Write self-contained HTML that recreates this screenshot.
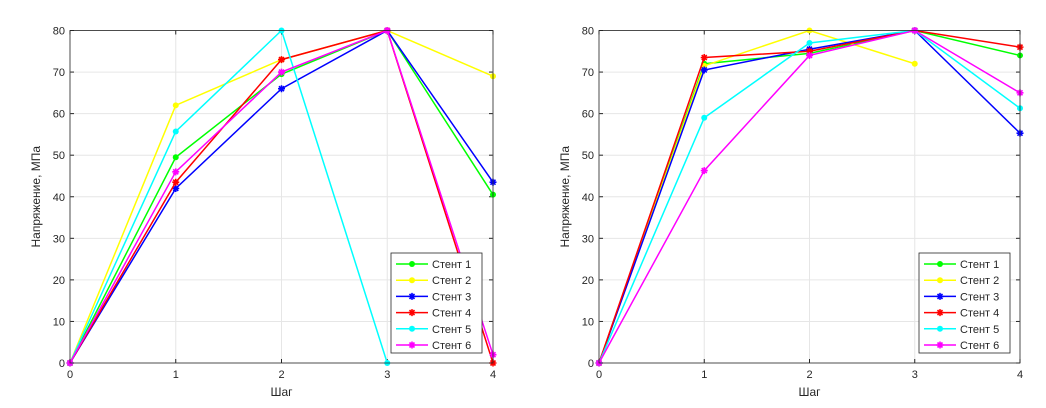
<!DOCTYPE html>
<html><head><meta charset="utf-8"><style>
html,body{margin:0;padding:0;background:#fff;}
svg{display:block;font-family:"Liberation Sans",sans-serif;}
</style></head><body>
<svg id="svg" width="1046" height="408" viewBox="0 0 1046 408"></svg>
<script>
const steps=[0,1,2,3,4];
const yTicks=[0,10,20,30,40,50,60,70,80];
const names=["Стент 1","Стент 2","Стент 3","Стент 4","Стент 5","Стент 6"];
const colors=["#00ff00","#ffff00","#0000ff","#ff0000","#00ffff","#ff00ff"];
const markerTypes=["dot","dot","star","star","dot","star"];
const left1=[0,49.5,69.5,80,40.5];
const left2=[0,62,73,80,69];
const left3=[0,42,66,80,43.5];
const left4=[0,43.5,73,80,0];
const left5=[0,55.7,80,0,null];
const left6=[0,46,70,80,2];
const right1=[0,72,74.5,80,74];
const right2=[0,71.5,80,72,null];
const right3=[0,70.5,75.5,80,55.3];
const right4=[0,73.5,75,80,76];
const right5=[0,59,77,80,61.3];
const right6=[0,46.3,74,80,65];
const NS="http://www.w3.org/2000/svg";
const svg=document.getElementById("svg");
function mk(tag,attrs,parent){const e=document.createElementNS(NS,tag);for(const k in attrs)e.setAttribute(k,attrs[k]);(parent||svg).appendChild(e);return e;}
function drawChart(id,x0,x1,y0,y1,series,lg){
  const g=mk("g",{});
  
  
  const sx=v=>x0+(v-0)/(4-0)*(x1-x0);
  const sy=v=>y0-(v/80)*(y0-y1);
  mk("rect",{x:x0,y:y1,width:x1-x0,height:y0-y1,fill:"#fff"},g);
  yTicks.forEach(t=>{const l=mk("line",{x1:x0,x2:x1,y1:sy(t),y2:sy(t),stroke:"#e6e6e6","stroke-width":1},g);
    
    const tx=mk("text",{x:x0-5,y:sy(t)+4,"text-anchor":"end","font-size":11,fill:"#262626"},g);tx.textContent=t;
    
    mk("line",{x1:x0,x2:x0+4,y1:sy(t),y2:sy(t),stroke:"#262626"},g);mk("line",{x1:x1,x2:x1-4,y1:sy(t),y2:sy(t),stroke:"#262626"},g);});
  steps.forEach(t=>{const l=mk("line",{y1:y0,y2:y1,x1:sx(t),x2:sx(t),stroke:"#e6e6e6","stroke-width":1},g);
    
    const tx=mk("text",{x:sx(t),y:y0+15,"text-anchor":"middle","font-size":11,fill:"#262626"},g);tx.textContent=t;
    
    mk("line",{y1:y0,y2:y0-4,x1:sx(t),x2:sx(t),stroke:"#262626"},g);mk("line",{y1:y1,y2:y1+4,x1:sx(t),x2:sx(t),stroke:"#262626"},g);});
  function marker(px,py,c,type,par){
    if(type==="dot"){mk("circle",{cx:px,cy:py,r:3,fill:c},par);}
    else{mk("path",{d:`M${px-3.5},${py}H${px+3.5}M${px},${py-3.5}V${py+3.5}M${px-2.5},${py-2.5}L${px+2.5},${py+2.5}M${px-2.5},${py+2.5}L${px+2.5},${py-2.5}`,stroke:c,"stroke-width":1.6},par);}
  }
  series.forEach((vals,i)=>{
    const sg=mk("g",{},g);
    
    
    let d="";let pen=false;
    vals.forEach((v,j)=>{if(v===null){pen=false;return;}d+=(pen?"L":"M")+sx(steps[j])+","+sy(v);pen=true;});
    mk("path",{d:d,fill:"none",stroke:colors[i],"stroke-width":1.5},sg);
    vals.forEach((v,j)=>{if(v!==null)marker(sx(steps[j]),sy(v),colors[i],markerTypes[i],sg);});
  });
  mk("rect",{x:x0,y:y1,width:x1-x0,height:y0-y1,fill:"none",stroke:"#262626","stroke-width":0.8},g);
  const yl=mk("text",{x:0,y:0,transform:`translate(${x0-30},${(y0+y1)/2}) rotate(-90)`,"text-anchor":"middle","font-size":12,fill:"#262626"},g);
  yl.textContent="Напряжение, МПа";
  const xl=mk("text",{x:(x0+x1)/2,y:y0+33,"text-anchor":"middle","font-size":12,fill:"#262626"},g);
  xl.textContent="Шаг";
  const lgG=mk("g",{},g);
  
  
  mk("rect",{x:lg,y:253,width:91,height:100,fill:"#fff",stroke:"#262626","stroke-width":0.8},lgG);
  names.forEach((n,i)=>{const yy=264+i*16.2;
    const eg=mk("g",{},lgG);
    mk("line",{x1:lg+5,x2:lg+37,y1:yy,y2:yy,stroke:colors[i],"stroke-width":1.5},eg);
    marker(lg+21,yy,colors[i],markerTypes[i],eg);
    const t=mk("text",{x:lg+41,y:yy+4,"font-size":11,fill:"#262626"},eg);t.textContent=n;});
}
drawChart("left-chart",70,493,363,30.5,[left1,left2,left3,left4,left5,left6],391);
drawChart("right-chart",599,1020,363,30.5,[right1,right2,right3,right4,right5,right6],919);
</script>
</body></html>
